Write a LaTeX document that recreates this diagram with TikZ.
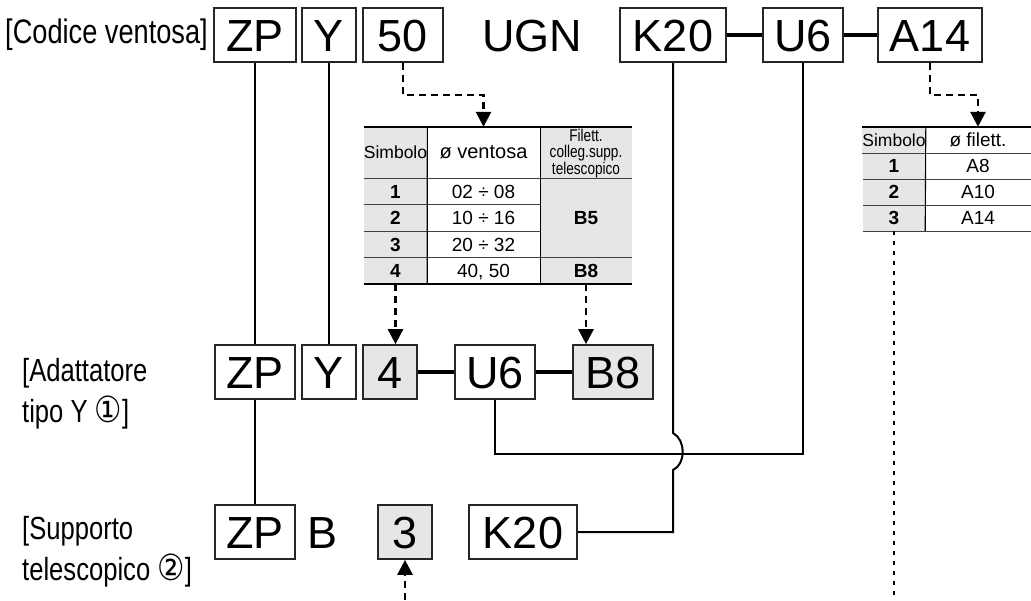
\documentclass[tikz,border=0pt]{standalone}
\usepackage{fontspec}
\setmainfont{Liberation Sans}
\newfontfamily\narrowfont[FakeStretch=0.8]{Liberation Sans}
\newfontfamily\circfont[FakeStretch=0.85]{DejaVu Sans}
\usetikzlibrary{arrows.meta}
\definecolor{cellgray}{HTML}{E6E6E6}

\begin{document}
\begin{tikzpicture}[x=1pt, y=-1pt,
  box/.style={draw=black!85, line width=1.7pt, minimum height=54pt, inner sep=0pt,
              text height=32pt, text depth=0pt, font=\fontsize{45}{48}\selectfont},
  gbox/.style={box, fill=cellgray},
  txt/.style={inner sep=0pt, text height=32pt, text depth=0pt, font=\fontsize{45}{48}\selectfont},
  lbl/.style={inner sep=0pt, anchor=west, align=left, font=\narrowfont\fontsize{32}{41}\selectfont},
  cell/.style={inner sep=0pt, minimum height=26.5pt, text height=13.6pt, text depth=0pt,
               font=\fontsize{19}{20}\selectfont},
  gcell/.style={cell, fill=cellgray},
  head/.style={inner sep=0pt, align=center},
  wire/.style={line width=2pt},
  bar/.style={line width=3.3pt},
  rule/.style={line width=2.5pt},
  sep/.style={line width=1.1pt, draw=black!75},
  darr/.style={line width=2.7pt, dash pattern=on 7pt off 5pt, -{Triangle[width=15pt,length=15pt]}},
  dotl/.style={line width=2.7pt, dash pattern=on 4pt off 6pt}
]
\useasboundingbox (0,0) rectangle (1031,600);

% codice ventosa
\node[lbl, font=\narrowfont\fontsize{34}{40}\selectfont] (codlbl) at (5,35) {[Codice ventosa]};
\node[box, minimum width=82pt]  (zpa)  at (255,35) {ZP};
\node[box, minimum width=54pt]  (ya)   at (329,35) {Y};
\node[box, minimum width=80pt]  (dia)  at (403,35) {50};
\node[txt]                      (ugn)  at (532,35) {UGN};
\node[box, minimum width=106pt] (k20a) at (673,35) {K20};
\node[box, minimum width=80pt]  (u6a)  at (803,35) {U6};
\node[box, minimum width=104pt] (a14a) at (930,35) {A14};

% tabella diametro
\node[gcell, head, minimum width=63pt, minimum height=51pt, text height=, text depth=,
      font=\fontsize{17.5}{18}\selectfont] (t1hs) at (395.5,152.5) {Simbolo};
\node[cell, head, minimum width=113pt, minimum height=51pt, text height=, text depth=,
      font=\fontsize{20}{22}\selectfont] (t1hd) at (483.5,152.5) {ø ventosa};
\node[gcell, head, minimum width=92pt, minimum height=51pt, text height=, text depth=,
      font=\narrowfont\fontsize{17}{15.5}\selectfont] (t1hf) at (586,153.5) {Filett.\\colleg.supp.\\telescopico};
\foreach \d [count=\r] in {02 ÷ 08, 10 ÷ 16, 20 ÷ 32, {40, 50}} {
  \node[gcell, minimum width=63pt, font=\bfseries\fontsize{19}{20}\selectfont] (t1s\r) at (395.5,{178+26.5*(\r-0.5)}) {\r};
  \node[cell, minimum width=113pt] (t1d\r) at (483.5,{178+26.5*(\r-0.5)}) {\d};
}
\node[gcell, minimum width=92pt, minimum height=79.5pt, font=\bfseries\fontsize{19}{20}\selectfont] (t1b5) at (586,217.75) {B5};
\node[gcell, minimum width=92pt, font=\bfseries\fontsize{19}{20}\selectfont] (t1b8) at (586,270.75) {B8};

\draw[rule] (t1hs.north west) -- (t1hd.north east) -- ++(92,0);
\draw[rule] (t1s4.south west) -- (t1b8.south east);
\draw[sep] (t1hs.south west) -- (t1hd.south east) -- ++(92,0);
\draw[sep] (t1s1.south west) -- (t1d1.south east);
\draw[sep] (t1s2.south west) -- (t1d2.south east);
\draw[sep] (t1s3.south west) -- (t1b5.south east);
\draw[sep, draw=black] (t1hs.north east) -- (t1s4.south east);
\draw[sep, draw=black] (t1hd.north east) -- (t1d4.south east);

% tabella filetto
\node[gcell, head, minimum width=62pt, minimum height=26pt, text height=, text depth=,
      font=\fontsize{17.5}{18}\selectfont] (t2hs) at (894,140) {Simbolo};
\node[cell, head, minimum width=106pt, minimum height=26pt, text height=, text depth=] (t2hf) at (978,140) {ø filett.};
\foreach \f [count=\r] in {A8, A10, A14} {
  \node[gcell, minimum width=62pt, minimum height=26pt, font=\bfseries\fontsize{19}{20}\selectfont] (t2s\r) at (894,{153+26*(\r-0.5)}) {\r};
  \node[cell, minimum width=106pt, minimum height=26pt] (t2f\r) at (978,{153+26*(\r-0.5)}) {\f};
}
\draw[rule] (t2hs.north west) -- (t2hf.north east);
\draw[sep] (t2hs.south west) -- (t2hf.south east);
\draw[sep] (t2s1.south west) -- (t2f1.south east);
\draw[sep] (t2s2.south west) -- (t2f2.south east);
\draw[sep] (t2s3.south west) -- (t2f3.south east);
\draw[sep, draw=black] (t2hs.north east) -- (t2s3.south east);

% adattatore tipo Y
\node[lbl] (adlbl) at (22,394) {[Adattatore\\tipo Y {\circfont\fontsize{36}{41}\selectfont ①}]};
\node[box, minimum width=80pt]  (zpb) at (255,372) {ZP};
\node[box, minimum width=54pt]  (yb)  at (329,372) {Y};
\node[gbox, minimum width=54pt] (s4b) at (390,372) {4};
\node[box, minimum width=80pt]  (u6b) at (495,372) {U6};
\node[gbox, minimum width=80pt] (b8b) at (613,372) {B8};

% supporto telescopico
\node[lbl] (sulbl) at (22,552) {[Supporto\\telescopico {\circfont\fontsize{36}{41}\selectfont ②}]};
\node[box, minimum width=80pt]  (zpc)  at (255,532) {ZP};
\node[txt]                      (bc)   at (323,532) {B};
\node[gbox, minimum width=54pt] (s3c)  at (405,532) {3};
\node[box, minimum width=108pt] (k20c) at (523,532) {K20};

\coordinate (jtop) at (673,433);
\coordinate (jbot) at (673,470);
\coordinate (vbot) at (405,600);
\coordinate (fbot) at (894,600);

\draw[wire] (zpa) -- (zpb);
\draw[wire] (ya) -- (yb);
\draw[wire] (zpb) -- (zpc);
\draw[bar] (k20a) -- (u6a);
\draw[bar] (u6a) -- (a14a);
\draw[bar] (s4b) -- (u6b);
\draw[bar] (u6b) -- (b8b);
\draw[wire] (u6b.south) -- ++(0,54) -| (u6a.south);
\draw[wire] (k20a.south) -- (jtop) .. controls +(13,7) and +(13,-6) .. (jbot) |- (k20c.east);

\draw[darr] (dia.south) -- ++(0,32) -| (t1hd.north);
\draw[darr] (a14a.south) -- ++(0,32) -| (t2hf.north);
\draw[darr] (t1s4.south) -- (t1s4.south |- s4b.north);
\draw[darr] (t1b8.south) -- (t1b8.south |- b8b.north);
\draw[darr] (vbot) -- (s3c.south);
\draw[dotl] (t2s3.south) -- (fbot);
\end{tikzpicture}
\end{document}
